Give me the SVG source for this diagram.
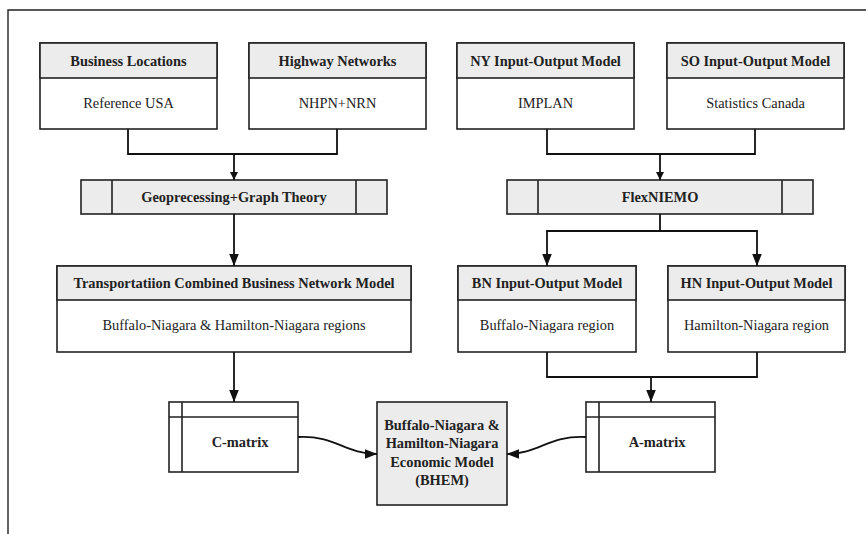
<svg xmlns="http://www.w3.org/2000/svg" width="866" height="534" viewBox="0 0 866 534">
<style>
.box{fill:#fff;stroke:#222;stroke-width:1.6}
.hdr{fill:#ececec;stroke:#222;stroke-width:1.6}
.ln{fill:none;stroke:#222;stroke-width:1.6}
.conn{fill:none;stroke:#111;stroke-width:1.8}
.t{font-family:"Liberation Serif","Times New Roman",serif;font-size:14.4px;fill:#222;text-anchor:middle}
.b{font-weight:bold}
</style>
<defs>
<marker id="arr" viewBox="0 0 10 10" refX="10" refY="5" markerWidth="8" markerHeight="8" markerUnits="userSpaceOnUse" orient="auto">
<path d="M0,0 L10,5 L0,10 z" fill="#111"/>
</marker>
<marker id="arrL" viewBox="0 0 10 10" refX="10" refY="5" markerWidth="12" markerHeight="12" markerUnits="userSpaceOnUse" orient="auto">
<path d="M0,1 L10,5 L0,9 z" fill="#111"/>
</marker>
</defs>
<rect width="866" height="534" fill="#fff"/>
<path d="M8,534 V10 H866" fill="none" stroke="#222" stroke-width="1.4"/>

<g id="business-locations">
<rect class="box" x="40" y="43" width="177" height="86"/>
<rect class="hdr" x="40" y="43" width="177" height="35"/>
<text class="t b" x="128.5" y="65.5">Business Locations</text>
<text class="t" x="128.5" y="108">Reference USA</text>
</g>
<g id="highway-networks">
<rect class="box" x="249" y="43" width="177" height="86"/>
<rect class="hdr" x="249" y="43" width="177" height="35"/>
<text class="t b" x="337.5" y="65.5">Highway Networks</text>
<text class="t" x="337.5" y="108">NHPN+NRN</text>
</g>
<g id="ny-io">
<rect class="box" x="457" y="43" width="177" height="86"/>
<rect class="hdr" x="457" y="43" width="177" height="35"/>
<text class="t b" x="545.5" y="65.5">NY Input-Output Model</text>
<text class="t" x="545.5" y="108">IMPLAN</text>
</g>
<g id="so-io">
<rect class="box" x="667" y="43" width="177" height="86"/>
<rect class="hdr" x="667" y="43" width="177" height="35"/>
<text class="t b" x="755.5" y="65.5">SO Input-Output Model</text>
<text class="t" x="755.5" y="108">Statistics Canada</text>
</g>

<g id="geoprocessing">
<rect class="hdr" x="81" y="180" width="306" height="34"/>
<path class="ln" d="M112,180 V214 M356,180 V214"/>
<text class="t b" x="234" y="202">Geoprecessing+Graph Theory</text>
</g>
<g id="flexniemo">
<rect class="hdr" x="507" y="180" width="306" height="34"/>
<path class="ln" d="M538,180 V214 M782,180 V214"/>
<text class="t b" x="660" y="202">FlexNIEMO</text>
</g>

<g id="tcbn-model">
<rect class="box" x="57" y="266" width="354" height="86"/>
<rect class="hdr" x="57" y="266" width="354" height="34"/>
<text class="t b" x="234" y="287.5">Transportatiion Combined Business Network Model</text>
<text class="t" x="234" y="329.5">Buffalo-Niagara &amp; Hamilton-Niagara regions</text>
</g>
<g id="bn-io">
<rect class="box" x="458" y="266" width="178" height="86"/>
<rect class="hdr" x="458" y="266" width="178" height="34"/>
<text class="t b" x="547" y="287.5">BN Input-Output Model</text>
<text class="t" x="547" y="329.5">Buffalo-Niagara region</text>
</g>
<g id="hn-io">
<rect class="box" x="668" y="266" width="177" height="86"/>
<rect class="hdr" x="668" y="266" width="177" height="34"/>
<text class="t b" x="756.5" y="287.5">HN Input-Output Model</text>
<text class="t" x="756.5" y="329.5">Hamilton-Niagara region</text>
</g>

<g id="c-matrix">
<rect class="box" x="169" y="402" width="129" height="70"/>
<path class="ln" d="M169,417 H298 M182,402 V472"/>
<text class="t b" x="240" y="446.5">C-matrix</text>
</g>
<g id="a-matrix">
<rect class="box" x="586" y="402" width="129" height="70"/>
<path class="ln" d="M586,417 H715 M599,402 V472"/>
<text class="t b" x="657" y="446.5">A-matrix</text>
</g>
<g id="bhem">
<rect class="hdr" x="377" y="402" width="130" height="103"/>
<text class="t b" x="442" y="430">Buffalo-Niagara &amp;</text>
<text class="t b" x="442" y="448.3">Hamilton-Niagara</text>
<text class="t b" x="442" y="466.6">Economic Model</text>
<text class="t b" x="442" y="485">(BHEM)</text>
</g>

<g id="connectors">
<path class="conn" d="M128,129 V154 H337 V129"/>
<path class="conn" d="M234,154 V180" marker-end="url(#arr)"/>
<path class="conn" d="M547,129 V154 H755 V129"/>
<path class="conn" d="M660,154 V180" marker-end="url(#arr)"/>
<path class="conn" d="M234,214 V266" marker-end="url(#arrL)"/>
<path class="conn" d="M660,214 V231 H547 V266" marker-end="url(#arrL)"/>
<path class="conn" d="M660,231 H757 V266" marker-end="url(#arrL)"/>
<path class="conn" d="M234,352 V402" marker-end="url(#arrL)"/>
<path class="conn" d="M547,352 V377 H757 V352"/>
<path class="conn" d="M651,377 V402" marker-end="url(#arrL)"/>
<path class="conn" d="M298,437 C335,435 345,454 377,454" marker-end="url(#arrL)"/>
<path class="conn" d="M586,437 C549,435 539,454 507,454" marker-end="url(#arrL)"/>
</g>
</svg>
